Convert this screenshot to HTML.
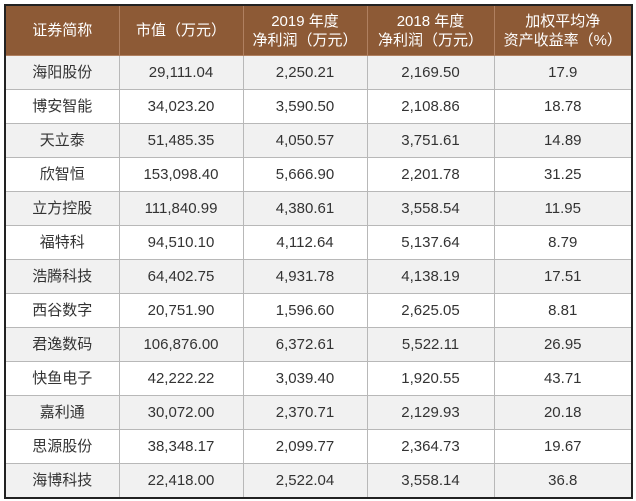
<!DOCTYPE html><html><head><meta charset="utf-8"><style>
body{margin:0;width:636px;height:501px;background:#fff;overflow:hidden;font-family:"Liberation Sans","Noto Sans CJK SC",sans-serif}
table{position:absolute;left:4px;top:4px;width:627px;border-collapse:collapse;border:2px solid #222;table-layout:fixed}
td,th{border:1px solid #b8b8b8;text-align:center;font-size:15px;color:#333;padding:0;height:33px;line-height:16px;overflow:hidden}
th{background:#8d5a36;color:#fff;font-weight:normal;height:49px;line-height:19px;border-color:#b08060}
tr:nth-child(even) td{background:#f1f1f1}
</style></head><body><table>
<colgroup><col style="width:114px"><col style="width:124px"><col style="width:124px"><col style="width:127px"><col style="width:138px"></colgroup>
<tr><th>证券简称</th><th>市值（万元）</th><th>2019 年度<br>净利润（万元）</th><th>2018 年度<br>净利润（万元）</th><th>加权平均净<br>资产收益率（%）</th></tr>
<tr><td>海阳股份</td><td>29,111.04</td><td>2,250.21</td><td>2,169.50</td><td>17.9</td></tr>
<tr><td>博安智能</td><td>34,023.20</td><td>3,590.50</td><td>2,108.86</td><td>18.78</td></tr>
<tr><td>天立泰</td><td>51,485.35</td><td>4,050.57</td><td>3,751.61</td><td>14.89</td></tr>
<tr><td>欣智恒</td><td>153,098.40</td><td>5,666.90</td><td>2,201.78</td><td>31.25</td></tr>
<tr><td>立方控股</td><td>111,840.99</td><td>4,380.61</td><td>3,558.54</td><td>11.95</td></tr>
<tr><td>福特科</td><td>94,510.10</td><td>4,112.64</td><td>5,137.64</td><td>8.79</td></tr>
<tr><td>浩腾科技</td><td>64,402.75</td><td>4,931.78</td><td>4,138.19</td><td>17.51</td></tr>
<tr><td>西谷数字</td><td>20,751.90</td><td>1,596.60</td><td>2,625.05</td><td>8.81</td></tr>
<tr><td>君逸数码</td><td>106,876.00</td><td>6,372.61</td><td>5,522.11</td><td>26.95</td></tr>
<tr><td>快鱼电子</td><td>42,222.22</td><td>3,039.40</td><td>1,920.55</td><td>43.71</td></tr>
<tr><td>嘉利通</td><td>30,072.00</td><td>2,370.71</td><td>2,129.93</td><td>20.18</td></tr>
<tr><td>思源股份</td><td>38,348.17</td><td>2,099.77</td><td>2,364.73</td><td>19.67</td></tr>
<tr><td>海博科技</td><td>22,418.00</td><td>2,522.04</td><td>3,558.14</td><td>36.8</td></tr>
</table></body></html>
